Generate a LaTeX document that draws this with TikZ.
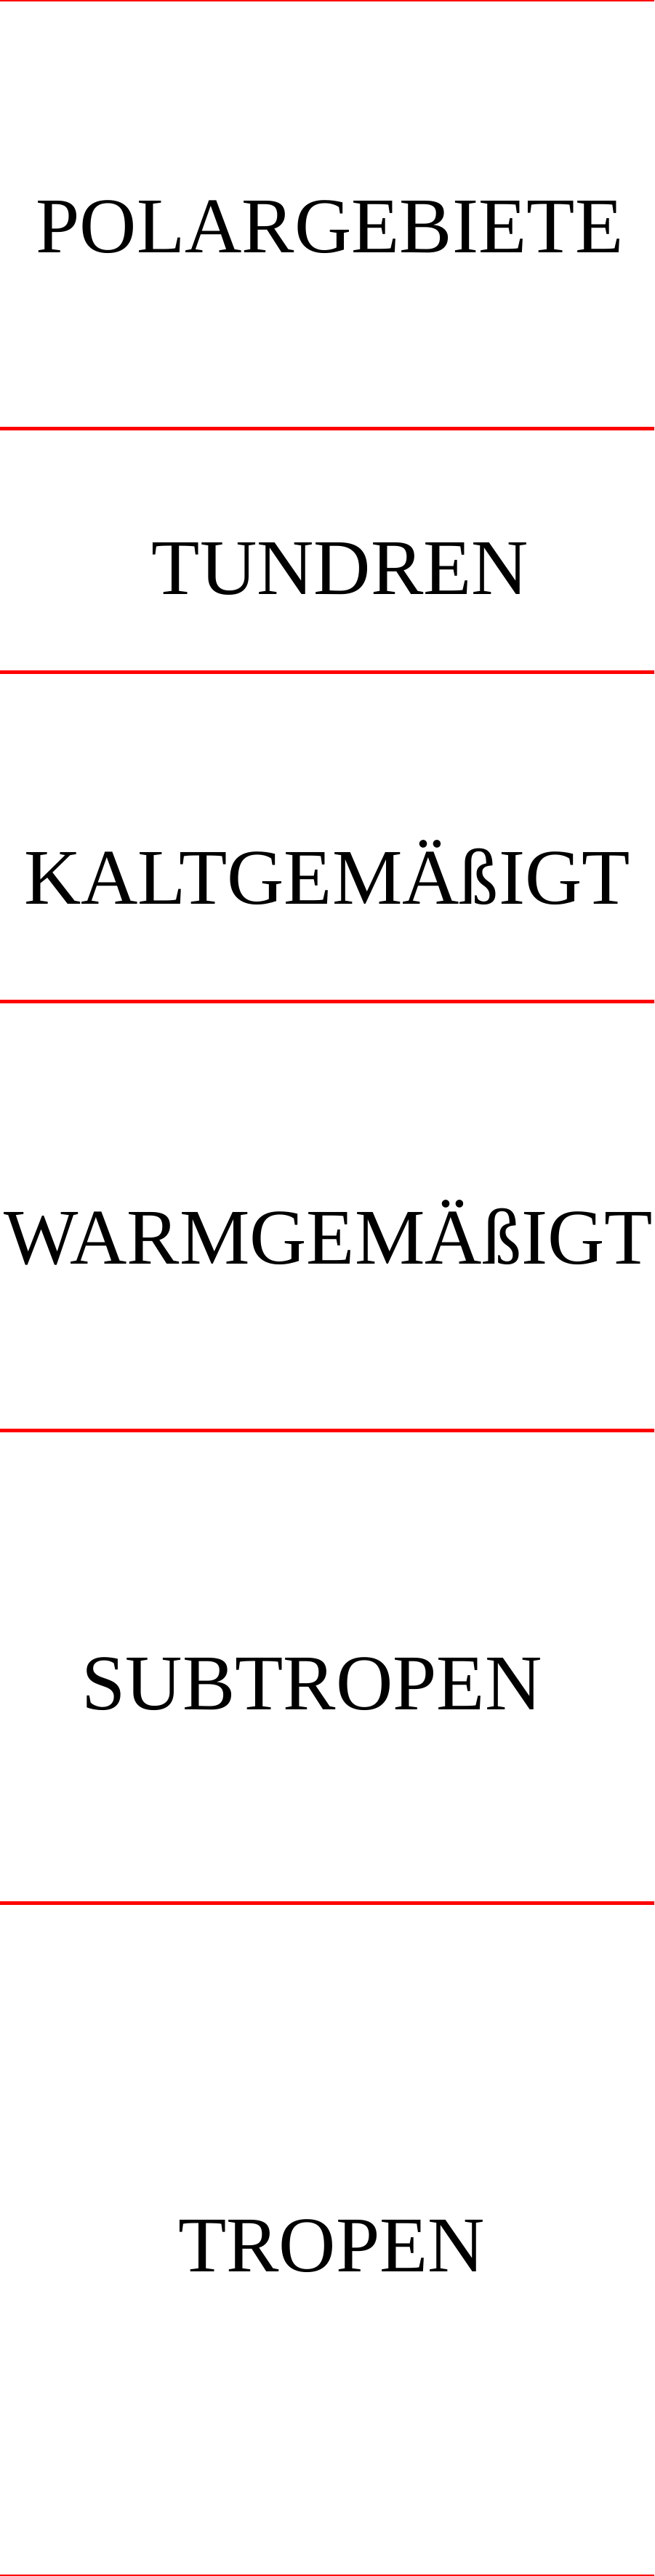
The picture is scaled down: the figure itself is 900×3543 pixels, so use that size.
\documentclass[tikz,border=0pt]{standalone}
\usepackage{fontspec}
\setmainfont{Liberation Serif}
\begin{document}
\begin{tikzpicture}[x=1pt,y=-1pt,
  sep/.style={draw=red,line width=5pt},
  zone/.style={anchor=base,inner sep=0pt,font=\fontsize{108.5pt}{120pt}\selectfont}]
\useasboundingbox (0,0) rectangle (900,3543);
\fill[white] (0,0) rectangle (900,3543);
\foreach \yy in {0,589.5,924.5,1377.5,1967.5,2617.5,3543}
  \draw[sep] (0,\yy) -- (900,\yy);
\node[zone] (polar) at (453.5,347) {POLARGEBIETE};
\node[zone] (tundren) at (468,817) {TUNDREN};
\node[zone] (kalt) at (450,1243) {KALTGEMÄßIGT};
\node[zone] (warm) at (452,1738) {WARMGEMÄßIGT};
\node[zone] (sub) at (429,2351) {SUBTROPEN};
\node[zone] (trop) at (456,3124) {TROPEN};
\end{tikzpicture}
\end{document}
